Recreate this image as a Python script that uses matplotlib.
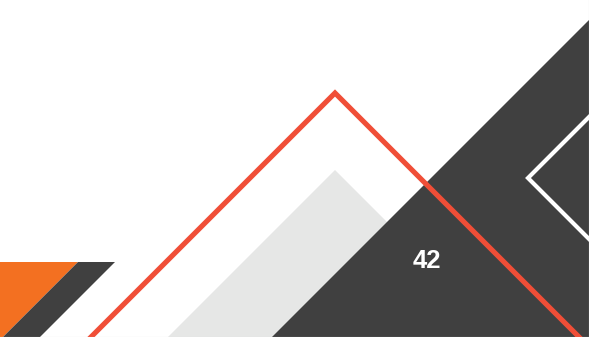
import matplotlib.pyplot as plt
from matplotlib.patches import Polygon

# Canvas size in pixels
W, H = 589, 337

# Shape vertices (pixel coords, y down)
dark_tri = [(589, 20), (589, 337), (272, 337)]
gray_tri = [(335, 170), (168, 337), (502, 337)]
red_outline = [(91, 337), (335, 93), (579, 337)]
white_chevron = [(589, 117), (528, 178), (589, 239)]
orange_corner = [(0, 262), (78, 262), (3, 337), (0, 337)]
dark_stripe = [(78, 262), (115, 262), (40, 337), (3, 337)]
page_number = "42"

# Colours
DARK = "#404040"
ORANGE = "#f37021"
RED = "#f04e37"
LIGHT = "#e6e7e6"

fig = plt.figure(figsize=(W / 100, H / 100), dpi=100)
ax = fig.add_axes([0, 0, 1, 1])
ax.set_xlim(0, W)
ax.set_ylim(H, 0)
ax.axis("off")

ax.add_patch(Polygon(gray_tri, closed=True, facecolor=LIGHT, edgecolor="none", zorder=1))
ax.add_patch(Polygon(dark_tri, closed=True, facecolor=DARK, edgecolor="none", zorder=2))
ax.add_patch(Polygon(orange_corner, closed=True, facecolor=ORANGE, edgecolor="none", zorder=2))
ax.add_patch(Polygon(dark_stripe, closed=True, facecolor=DARK, edgecolor="none", zorder=2))

rx, ry = zip(*red_outline)
ax.plot(rx, ry, color=RED, linewidth=3.7, solid_joinstyle="miter", zorder=3)
wx, wy = zip(*white_chevron)
ax.plot(wx, wy, color="white", linewidth=3.0, solid_joinstyle="miter", zorder=3)

ax.text(427, 268, page_number, color="white", fontsize=18.5, fontweight="bold",
        family="Liberation Sans", ha="center", va="baseline", zorder=4)

# thin slide border on the right and bottom
ax.plot([W - 0.5, W - 0.5], [0, H], color="#d9d9d9", linewidth=0.8, zorder=5)
ax.plot([0, W], [H - 0.5, H - 0.5], color="#d9d9d9", linewidth=0.8, zorder=5)

fig.savefig("out.png", dpi=100)
